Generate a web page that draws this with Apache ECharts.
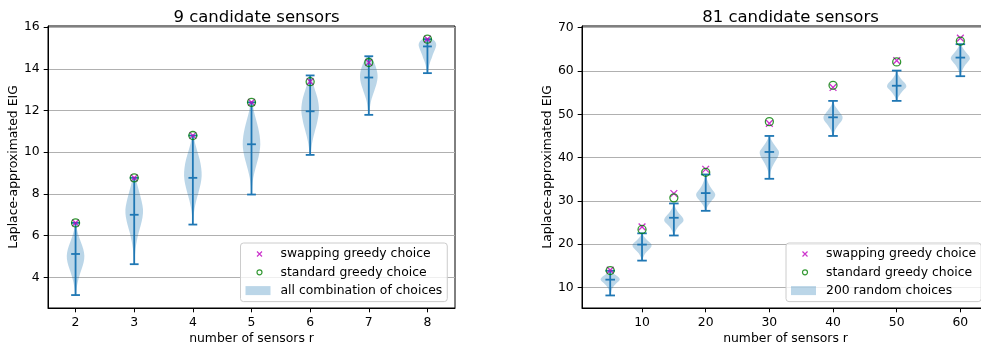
<!DOCTYPE html>
<html>
<head>
<meta charset="utf-8">
<script src="https://cdn.jsdelivr.net/npm/echarts@6/dist/echarts.min.js"></script>
<style>
  html, body { margin: 0; padding: 0; background: #ffffff; }
  #chart { width: 981px; height: 345px; }
</style>
</head>
<body>
<div id="chart"></div>
<script>
// ---- 9 candidate sensors: every combination of r sensors ----
const smallSizes = [2, 3, 4, 5, 6, 7, 8];
const smallMin = [3.15, 4.63, 6.53, 7.97, 9.87, 11.79, 13.79];
const smallMax = [6.61, 8.77, 10.80, 12.39, 13.68, 14.60, 15.42];
const smallMean = [5.12, 7.00, 8.77, 10.38, 11.96, 13.58, 15.07];
// relative kernel density, evenly spaced from min to max
const smallDensity = [
  [0.05, 0.12, 0.25, 0.45, 0.70, 0.92, 1.00, 0.88, 0.62, 0.36, 0.16, 0.05],
  [0.03, 0.08, 0.15, 0.30, 0.50, 0.75, 0.95, 1.00, 0.85, 0.62, 0.38, 0.10],
  [0.03, 0.08, 0.20, 0.40, 0.65, 0.88, 1.00, 0.95, 0.78, 0.52, 0.26, 0.08],
  [0.03, 0.08, 0.20, 0.42, 0.68, 0.90, 1.00, 0.93, 0.75, 0.50, 0.26, 0.08],
  [0.05, 0.14, 0.28, 0.48, 0.70, 0.88, 1.00, 0.96, 0.80, 0.55, 0.30, 0.10],
  [0.05, 0.10, 0.18, 0.32, 0.52, 0.72, 0.90, 1.00, 0.96, 0.80, 0.55, 0.20],
  [0.05, 0.10, 0.16, 0.25, 0.36, 0.50, 0.62, 0.76, 0.90, 1.00, 0.92, 0.55]
];
const smallSwapping = [6.61, 8.77, 10.80, 12.39, 13.38, 14.30, 15.42];
const smallStandard = [6.61, 8.77, 10.80, 12.39, 13.38, 14.30, 15.42];
const smallTicksX = [2, 3, 4, 5, 6, 7, 8];
const smallTicksY = [4, 6, 8, 10, 12, 14, 16];

// ---- 81 candidate sensors: 200 random choices of r sensors ----
const largeSizes = [5, 10, 15, 20, 30, 40, 50, 60];
const largeMin = [8.15, 16.2, 22.0, 27.7, 35.1, 45.0, 53.1, 58.8];
const largeMax = [13.85, 22.5, 29.4, 36.1, 45.0, 53.1, 60.1, 66.2];
const largeMean = [11.8, 19.9, 26.1, 31.8, 41.3, 49.3, 56.6, 63.1];
const largeDensity = [
  [0.05, 0.08, 0.12, 0.20, 0.35, 0.55, 0.80, 1.00, 0.90, 0.60, 0.30, 0.10],
  [0.05, 0.10, 0.20, 0.35, 0.60, 0.85, 1.00, 0.90, 0.60, 0.35, 0.15, 0.05],
  [0.05, 0.12, 0.25, 0.45, 0.75, 1.00, 0.95, 0.70, 0.45, 0.25, 0.12, 0.05],
  [0.05, 0.15, 0.35, 0.60, 0.90, 1.00, 0.80, 0.55, 0.35, 0.20, 0.10, 0.05],
  [0.05, 0.08, 0.15, 0.30, 0.50, 0.75, 0.95, 1.00, 0.75, 0.45, 0.20, 0.05],
  [0.05, 0.12, 0.25, 0.45, 0.70, 0.95, 1.00, 0.80, 0.55, 0.30, 0.12, 0.05],
  [0.05, 0.12, 0.30, 0.50, 0.75, 1.00, 0.95, 0.70, 0.45, 0.25, 0.10, 0.05],
  [0.05, 0.10, 0.20, 0.35, 0.55, 0.80, 1.00, 0.90, 0.65, 0.40, 0.20, 0.05]
];
const largeSwapping = [14.0, 24.0, 31.7, 37.3, 47.9, 56.2, 62.4, 67.6];
const largeStandard = [13.9, 23.4, 30.7, 36.6, 48.3, 56.7, 62.1, 66.9];
const largeTicksX = [10, 20, 30, 40, 50, 60];
const largeTicksY = [10, 20, 30, 40, 50, 60, 70];

const FONT = 'DejaVu Sans';
const BLUE = '#1f77b4';
const BODY = 'rgba(31,119,180,0.3)';
const CROSS = 'path://M-2,-2M12,12M0,0L10,10M10,0L0,10';
const CROSS_ICON = 'path://M-4,-4M18,14M0,0L10,10M10,0L0,10';
const RING_ICON = 'path://M-4,-4M18,14M10,5A5,5,0,1,1,0,5A5,5,0,1,1,10,5Z';
const PATCH_ICON = 'path://M0,0L25,0L25,9L0,9ZM30,0';

// violin body + extrema bars + mean bar, drawn on the axis scales
function violinRenderer(stats, bodyWidth) {
  const half = bodyWidth / 2;
  const capHalf = bodyWidth / 4;
  return function (params, api) {
    const i = params.dataIndex;
    const x = api.value(0);
    const lo = stats.min[i], hi = stats.max[i], mean = stats.mean[i];
    const dens = stats.density[i];
    const n = dens.length;
    const right = [], left = [];
    for (let k = 0; k < n; k++) {
      const y = lo + (hi - lo) * k / (n - 1);
      right.push(api.coord([x + half * dens[k], y]));
      left.push(api.coord([x - half * dens[k], y]));
    }
    const pts = right.concat(left.reverse());
    const seg = (x1, y1, x2, y2) => {
      const a = api.coord([x1, y1]), b = api.coord([x2, y2]);
      return {
        type: 'line',
        shape: { x1: a[0], y1: a[1], x2: b[0], y2: b[1] },
        style: { stroke: BLUE, lineWidth: 1.8 }
      };
    };
    return {
      type: 'group',
      children: [
        { type: 'polygon', shape: { points: pts, smooth: 0.35 }, style: { fill: BODY } },
        seg(x, lo, x, hi),
        seg(x - capHalf, lo, x + capHalf, lo),
        seg(x - capHalf, hi, x + capHalf, hi),
        seg(x - capHalf, mean, x + capHalf, mean)
      ]
    };
  };
}

function pairs(xs, ys) { return xs.map((x, i) => [x, ys[i]]); }

function xAxisFor(grid, min, max, ticks) {
  return {
    gridIndex: grid, type: 'value', min: min, max: max,
    name: 'number of sensors r', nameLocation: 'middle', nameGap: 21,
    nameTextStyle: { fontFamily: FONT, fontSize: 12.4, color: '#000' },
    axisLine: { onZero: false, lineStyle: { color: '#000', width: 1 } },
    axisTick: { customValues: ticks, length: 4.3, lineStyle: { color: '#000', width: 1 } },
    axisLabel: { customValues: ticks, margin: 8.3, fontFamily: FONT, fontSize: 12.4, color: '#000' },
    splitLine: { show: false }
  };
}
function yAxisFor(grid, min, max, ticks) {
  return {
    gridIndex: grid, type: 'value', min: min, max: max,
    name: 'Laplace-approximated EIG', nameLocation: 'middle', nameGap: 26,
    nameTextStyle: { fontFamily: FONT, fontSize: 12.4, color: '#000' },
    axisLine: { show: true, lineStyle: { color: '#000', width: 1 } },
    axisTick: { show: true, customValues: ticks, length: 4.3, lineStyle: { color: '#000', width: 1 } },
    axisLabel: { customValues: ticks, margin: 8.3, fontFamily: FONT, fontSize: 12.4, color: '#000' },
    splitLine: { show: true, lineStyle: { color: '#b0b0b0', width: 1 } }
  };
}

function legendFor(left, names) {
  return {
    orient: 'vertical', left: left, top: 243,
    padding: [4, 5, 4, 5], itemGap: 4.3, itemWidth: 30, itemHeight: 9,
    backgroundColor: 'rgba(255,255,255,0.8)', borderColor: '#cccccc', borderWidth: 1, borderRadius: 3,
    textStyle: { fontFamily: FONT, fontSize: 12.4, color: '#000', lineHeight: 14 },
    selectedMode: false,
    data: [
      { name: 'swapping greedy choice', icon: CROSS_ICON,
        itemStyle: { color: 'rgba(0,0,0,0)', borderColor: '#bf00bf', borderWidth: 1.2 } },
      { name: 'standard greedy choice', icon: RING_ICON,
        itemStyle: { color: 'rgba(0,0,0,0)', borderColor: '#008000', borderWidth: 1.2 } },
      { name: names, icon: PATCH_ICON, itemStyle: { color: BODY, borderWidth: 0 } }
    ]
  };
}

function markerSeries(grid, xs, swap, std) {
  return [
    {
      name: 'swapping greedy choice', type: 'scatter', xAxisIndex: grid, yAxisIndex: grid,
      data: pairs(xs, swap), symbol: CROSS, symbolSize: 9.5, z: 5,
      itemStyle: { color: 'rgba(0,0,0,0)', borderColor: '#bf00bf', borderWidth: 1.3 }
    },
    {
      name: 'standard greedy choice', type: 'scatter', xAxisIndex: grid, yAxisIndex: grid,
      data: pairs(xs, std), symbol: 'circle', symbolSize: 8, z: 6,
      itemStyle: { color: 'rgba(0,0,0,0)', borderColor: '#008000', borderWidth: 1.3 }
    }
  ];
}

const chart = echarts.init(document.getElementById('chart'), null, { renderer: 'canvas' });
chart.setOption({
  animation: false,
  backgroundColor: '#ffffff',
  title: [
    { text: '9 candidate sensors', left: 251.5, top: 4, textAlign: 'center',
      textStyle: { fontFamily: FONT, fontSize: 16.5, fontWeight: 'normal', color: '#000' } },
    { text: '81 candidate sensors', left: 785.5, top: 4, textAlign: 'center',
      textStyle: { fontFamily: FONT, fontSize: 16.5, fontWeight: 'normal', color: '#000' } }
  ],
  grid: [
    { left: 48, top: 26, width: 407, height: 282, show: true, borderColor: '#000', borderWidth: 1,
      backgroundColor: 'transparent', containLabel: false, outerBoundsMode: 'none' },
    { left: 582, top: 26, width: 407, height: 282, show: true, borderColor: '#000', borderWidth: 1,
      backgroundColor: 'transparent', containLabel: false, outerBoundsMode: 'none' }
  ],
  xAxis: [
    xAxisFor(0, 1.53, 8.47, smallTicksX),
    xAxisFor(1, 0.57, 64.5, largeTicksX)
  ],
  yAxis: [
    yAxisFor(0, 2.53, 16.05, smallTicksY),
    yAxisFor(1, 5.25, 70.4, largeTicksY)
  ],
  legend: [
    legendFor(240.5, 'all combination of choices'),
    legendFor(786, '200 random choices')
  ],
  series: [
    {
      name: 'all combination of choices', type: 'custom', xAxisIndex: 0, yAxisIndex: 0,
      itemStyle: { color: BODY }, clip: true, z: 2,
      renderItem: violinRenderer({ min: smallMin, max: smallMax, mean: smallMean, density: smallDensity }, 0.3),
      data: pairs(smallSizes, smallMean), encode: { x: 0, y: 1 }
    },
    {
      name: '200 random choices', type: 'custom', xAxisIndex: 1, yAxisIndex: 1,
      itemStyle: { color: BODY }, clip: true, z: 2,
      renderItem: violinRenderer({ min: largeMin, max: largeMax, mean: largeMean, density: largeDensity }, 3),
      data: pairs(largeSizes, largeMean), encode: { x: 0, y: 1 }
    }
  ].concat(markerSeries(0, smallSizes, smallSwapping, smallStandard))
   .concat(markerSeries(1, largeSizes, largeSwapping, largeStandard))
});
</script>
</body>
</html>
